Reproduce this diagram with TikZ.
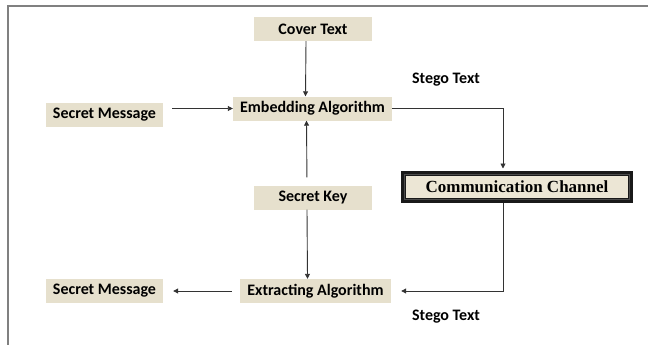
\documentclass[tikz,border=0pt]{standalone}
\usepackage{fontspec}
\setmainfont{Carlito}
\newfontfamily\channelfont{Liberation Serif}
\usepackage{xcolor}
\usepackage{tikz}
\usetikzlibrary{arrows.meta}
\definecolor{boxfill}{HTML}{E6E0CD}
\definecolor{chanfill}{HTML}{ECE6D5}
\definecolor{wirecol}{HTML}{333333}
\definecolor{framecol}{HTML}{808080}

\begin{document}
\begin{tikzpicture}[x=1pt,y=-1pt,
    box/.style={fill=boxfill,inner sep=0pt,minimum height=24pt,
      font=\bfseries\fontsize{16}{16}\selectfont},
    stego/.style={inner sep=0pt,font=\bfseries\fontsize{16}{16}\selectfont},
    wire/.style={draw=wirecol,line width=0.9pt,-{Triangle[length=5pt,width=5pt]}}]
  \useasboundingbox (0,0) rectangle (648,345);
  \draw[framecol,line width=1.5pt] (8,346) -- (8,6) -- (649,6);
  % sender side
  \node[box,minimum width=118pt] (cover) at (313,29) {Cover Text};
  \node[box,minimum width=159pt] (embed) at (312.5,108.5) {Embedding Algorithm};
  \node[box,minimum width=117pt] (msgin) at (104.5,115) {Secret Message};
  \node[box,minimum width=118pt] (key) at (313,197.5) {Secret Key};
  % receiver side
  \node[box,minimum width=151pt] (extract) at (315.5,291) {Extracting Algorithm};
  \node[box,minimum width=117pt] (msgout) at (104.5,291) {Secret Message};
  % channel
  \node[fill=chanfill,draw=black!90,line width=5pt,inner sep=0pt,
    minimum width=227pt,minimum height=27pt,
    font=\channelfont\bfseries\fontsize{17}{17}\selectfont] (comm) at (517,187) {Communication Channel};
  \draw[black!70,line width=0.6pt] ([shift={(3.5pt,3.5pt)}]comm.south west)
    rectangle ([shift={(-3.5pt,-3.5pt)}]comm.north east);
  \node[stego] (stegoA) at (446,80) {Stego Text};
  \node[stego] (stegoB) at (446,317) {Stego Text};
  % connectors
  \draw[wire] ([xshift=-7pt]cover.south) -- ([xshift=-7pt]embed.north);
  \draw[wire,shorten <=8pt] ([xshift=-6pt]key.north) -- ([xshift=-6pt]embed.south);
  \draw[wire] ([xshift=-6pt]key.south) -- ([xshift=-8pt]extract.north);
  \draw[wire,shorten <=9pt] (msgin.east |- embed.west) -- (embed.west);
  \draw[wire,shorten <=8pt,shorten >=10pt] (extract.west) -- (msgout.east);
  \draw[wire,shorten >=2.5pt] (embed.east) -| ([xshift=-14pt]comm.north);
  \draw[wire,shorten >=10pt] ([xshift=-14pt]comm.south) |- (extract.east);
\end{tikzpicture}
\end{document}
